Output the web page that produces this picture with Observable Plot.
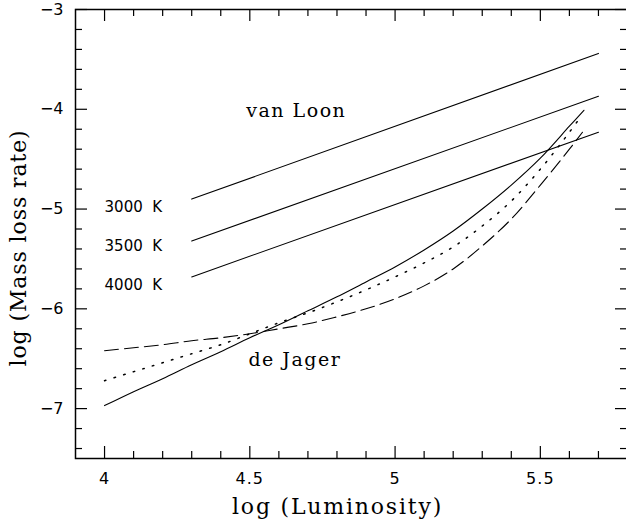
<!DOCTYPE html>
<html><head><meta charset="utf-8">
<script src="https://cdn.jsdelivr.net/npm/d3@7"></script>
<script src="https://cdn.jsdelivr.net/npm/@observablehq/plot@0.6"></script>
<style>html,body{margin:0;padding:0;background:#fff}</style>
</head><body><div id="chart"></div>
<script>
// van Loon relations (log L from 4.3 to 5.7)
const vanLoonX = [4.3, 5.7];
const vanLoon3000 = [-4.90, -3.44];
const vanLoon3500 = [-5.32, -3.87];
const vanLoon4000 = [-5.68, -4.23];
const tempLabels = ["3000\u00a0\u00a0K", "3500\u00a0\u00a0K", "4000\u00a0\u00a0K"];
const tempLabelY = [-4.98, -5.37, -5.76];

// de Jager curves
const solidX  = [4.0,4.1,4.2,4.3,4.4,4.5,4.6,4.7,4.8,4.9,5.0,5.1,5.2,5.3,5.4,5.5,5.6,5.65];
const solidY  = [-6.97,-6.83,-6.70,-6.56,-6.43,-6.29,-6.16,-6.02,-5.88,-5.73,-5.58,-5.41,-5.22,-5.00,-4.76,-4.49,-4.17,-4.01];
const dottedX = [4.0,4.1,4.2,4.3,4.4,4.5,4.6,4.7,4.8,4.9,5.0,5.1,5.2,5.3,5.4,5.5,5.6,5.64];
const dottedY = [-6.72,-6.63,-6.54,-6.45,-6.36,-6.25,-6.14,-6.04,-5.93,-5.81,-5.68,-5.54,-5.38,-5.17,-4.92,-4.60,-4.23,-4.07];
const dashedX = [4.0,4.1,4.2,4.3,4.4,4.5,4.6,4.7,4.8,4.9,5.0,5.1,5.2,5.3,5.4,5.5,5.6,5.645];
const dashedY = [-6.42,-6.39,-6.36,-6.32,-6.29,-6.25,-6.20,-6.15,-6.08,-6.00,-5.90,-5.77,-5.60,-5.37,-5.10,-4.76,-4.40,-4.23];

// curve labels
const curveLabels = ["van Loon", "de Jager"];
const curveLabelX = [4.66, 4.655];
const curveLabelY = [-4.02, -6.51];

// ticks
const xMajor = [4, 4.5, 5, 5.5];
const xMinor = [4.1,4.2,4.3,4.4,4.6,4.7,4.8,4.9,5.1,5.2,5.3,5.4,5.6,5.7];
const yMajor = [-7, -6, -5, -4, -3];
const yMinor = [-7.4,-7.2,-6.8,-6.6,-6.4,-6.2,-5.8,-5.6,-5.4,-5.2,-4.8,-4.6,-4.4,-4.2,-3.8,-3.6,-3.4,-3.2];
const xTitle = "log (Luminosity)";
const yTitle = "log (Mass loss rate)";

const W = 626, H = 524;
const mL = 75, mR = -1, mT = 9, mB = 66;
const fw = W - mL - mR, fh = H - mT - mB;

const pairs = (xs, ys) => xs.map((x, i) => ({x, y: ys[i]}));
const lineOpts = {x: "x", y: "y", stroke: "#000", strokeWidth: 1.1};
const fmt = d => String(d).replace("-", "\u2212");

const plot = Plot.plot({
  width: W, height: H,
  marginLeft: mL, marginRight: mR, marginTop: mT, marginBottom: mB,
  x: {domain: [3.9, 5.8], label: null},
  y: {domain: [-7.5, -3], label: null},
  style: {fontFamily: "DejaVu Sans", fontSize: "16px", color: "#000", background: "#fff"},
  marks: [
    Plot.frame({stroke: "#000", strokeWidth: 1.5}),
    // inward ticks, four sides
    Plot.tickX(xMajor, {x: d => d, insetTop: fh - 12, stroke: "#000", strokeWidth: 1.2}),
    Plot.tickX(xMajor, {x: d => d, insetBottom: fh - 12, stroke: "#000", strokeWidth: 1.2}),
    Plot.tickX(xMinor, {x: d => d, insetTop: fh - 7, stroke: "#000", strokeWidth: 1.2}),
    Plot.tickX(xMinor, {x: d => d, insetBottom: fh - 7, stroke: "#000", strokeWidth: 1.2}),
    Plot.tickY(yMajor, {y: d => d, insetRight: fw - 12, stroke: "#000", strokeWidth: 1.2}),
    Plot.tickY(yMajor, {y: d => d, insetLeft: fw - 12, stroke: "#000", strokeWidth: 1.2}),
    Plot.tickY(yMinor, {y: d => d, insetRight: fw - 7, stroke: "#000", strokeWidth: 1.2}),
    Plot.tickY(yMinor, {y: d => d, insetLeft: fw - 7, stroke: "#000", strokeWidth: 1.2}),
    Plot.axisX(xMajor, {anchor: "bottom", tickSize: 0, tickPadding: 14, fontSize: 16, tickFormat: fmt, label: null}),
    Plot.axisY(yMajor, {anchor: "left", tickSize: 0, tickPadding: 12, fontSize: 16, tickFormat: fmt, label: null}),
    // van Loon
    Plot.line(pairs(vanLoonX, vanLoon3000), lineOpts),
    Plot.line(pairs(vanLoonX, vanLoon3500), lineOpts),
    Plot.line(pairs(vanLoonX, vanLoon4000), lineOpts),
    Plot.text(tempLabels, {x: () => 4.0, y: (d, i) => tempLabelY[i], text: d => d, textAnchor: "start", fontSize: 15, fontFamily: "DejaVu Sans", fill: "#000"}),
    // de Jager
    Plot.line(pairs(solidX, solidY), {...lineOpts, curve: "catmull-rom"}),
    Plot.line(pairs(dottedX, dottedY), {...lineOpts, curve: "catmull-rom", strokeWidth: 1.5, strokeDasharray: "1.5,8.5"}),
    Plot.line(pairs(dashedX, dashedY), {...lineOpts, curve: "catmull-rom", strokeDasharray: "14,6"}),
    Plot.text(curveLabels, {x: (d, i) => curveLabelX[i], y: (d, i) => curveLabelY[i], text: d => d, fontSize: 19, fontFamily: "DejaVu Serif", fill: "#000"}),
    // axis titles
    Plot.text([xTitle], {frameAnchor: "bottom", text: d => d, textAnchor: "middle", lineAnchor: "middle", dx: -14, dy: 48, fontSize: 22, fontFamily: "DejaVu Serif", fill: "#000"}),
    Plot.text([yTitle], {frameAnchor: "left", text: d => d, textAnchor: "middle", lineAnchor: "middle", rotate: -90, dx: -57, dy: 14, fontSize: 22, fontFamily: "DejaVu Serif", fill: "#000"})
  ]
});
const spacing = {[xTitle]: "1.8px", [yTitle]: "0.9px", "van Loon": "1.5px", "de Jager": "1.5px", "4": "1px", "4.5": "1px", "5": "1px", "5.5": "1px"};
d3.select(plot).selectAll("text").each(function() {
  const s = spacing[this.textContent];
  if (s) d3.select(this).style("letter-spacing", s);
});
document.getElementById("chart").appendChild(plot);
</script>
</body></html>
